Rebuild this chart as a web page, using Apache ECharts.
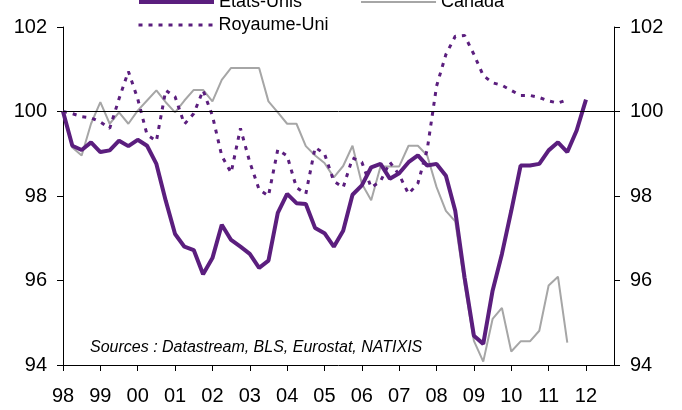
<!DOCTYPE html>
<html>
<head>
<meta charset="utf-8">
<script src="https://cdn.jsdelivr.net/npm/echarts@6/dist/echarts.min.js"></script>
<style>
  html, body { margin: 0; padding: 0; background: #fff; }
  #chart { width: 682px; height: 410px; }
</style>
</head>
<body>
<div id="chart"></div>
<script>
// années affichées sur l'axe, données trimestrielles (T1 1998 -> T4 2012)
const years = [1998, 1999, 2000, 2001, 2002, 2003, 2004, 2005, 2006, 2007, 2008, 2009, 2010, 2011, 2012]
const quarters = []
years.forEach(y => { for (let q = 1; q <= 4; q++) quarters.push(y + 'T' + q) })

// base 100 au T1 1998
const etatsUnis = [
  100, 99.19, 99.09, 99.27,
  99.04, 99.08, 99.31, 99.18,
  99.33, 99.19, 98.76, 97.89,
  97.10, 96.80, 96.72, 96.15,
  96.53, 97.32, 96.96, 96.80,
  96.63, 96.30, 96.47, 97.60,
  98.05, 97.83, 97.81, 97.24,
  97.12, 96.80, 97.18, 98.03,
  98.25, 98.68, 98.76, 98.41,
  98.54, 98.80, 98.96, 98.72,
  98.76, 98.48, 97.65, 96.07,
  94.69, 94.50, 95.76, 96.63,
  97.65, 98.72, 98.72, 98.76,
  99.08, 99.27, 99.04, 99.55,
  100.28
]
const canada = [
  100, 99.15, 98.96, 99.71,
  100.22, 99.71, 99.98, 99.71,
  100.02, 100.26, 100.50, 100.22,
  99.98, 100.26, 100.51, 100.51,
  100.24, 100.75, 101.03, 101.03,
  101.03, 101.03, 100.24, 99.98,
  99.71, 99.71, 99.18, 98.96,
  98.78, 98.44, 98.71, 99.19,
  98.29, 97.90, 98.70, 98.70,
  98.70, 99.19, 99.19, 98.96,
  98.21, 97.65, 97.40, 95.90,
  94.57, 94.08, 95.09, 95.35,
  94.32, 94.56, 94.56, 94.81,
  95.88, 96.09, 94.53
]
const royaumeUni = [
  100, 99.95, 99.88, 99.85,
  99.75, 99.60, 100.30, 100.95,
  100.30, 99.45, 99.30, 100.50,
  100.35, 99.70, 99.95, 100.50,
  99.90, 98.95, 98.55, 99.60,
  98.80, 98.15, 98.00, 99.10,
  98.95, 98.20, 98.05, 99.15,
  99.00, 98.35, 98.20, 98.90,
  98.80, 98.20, 98.35, 98.80,
  98.50, 98.05, 98.30, 99.10,
  100.60, 101.35, 101.78, 101.80,
  101.35, 100.85, 100.68, 100.62,
  100.50, 100.38, 100.38, 100.33,
  100.25, 100.20, 100.28
]

const font = "'Liberation Sans', Arial, sans-serif"
const violet = '#5b1e7e'
const gris = '#a6a6a6'
const isQ1 = (i) => i % 4 === 0

const chart = echarts.init(document.getElementById('chart'))

const yAxisBase = {
  type: 'value',
  min: 94,
  max: 102,
  interval: 2,
  splitLine: { show: false },
  axisLine: { show: true, lineStyle: { color: '#000', width: 1 } },
  axisTick: { show: true, length: 6, lineStyle: { color: '#000' } },
  axisLabel: { color: '#000', fontSize: 20, fontFamily: font, margin: 16 }
}

const legendText = { fontSize: 18, color: '#000', fontFamily: font }

chart.setOption({
  animation: false,
  textStyle: { fontFamily: font },
  grid: { left: 63, right: 68, top: 27, bottom: 45 },
  legend: [
    {
      data: [
        { name: 'Etats-Unis', lineStyle: { width: 4 } },
        { name: 'Canada', lineStyle: { width: 2 } }
      ],
      left: 132, top: -12,
      itemWidth: 75, itemHeight: 20, itemGap: 58,
      itemStyle: { opacity: 0 },
      textStyle: legendText
    },
    {
      data: [{ name: 'Royaume-Uni', lineStyle: { width: 3 } }],
      left: 132, top: 11,
      itemWidth: 75, itemHeight: 20,
      itemStyle: { opacity: 0 },
      textStyle: legendText
    }
  ],
  xAxis: {
    type: 'category',
    data: quarters,
    boundaryGap: false,
    axisLine: { lineStyle: { color: '#000', width: 1 } },
    axisTick: { interval: isQ1, length: 6, lineStyle: { color: '#000' } },
    axisLabel: {
      interval: isQ1,
      formatter: (v) => v.slice(2, 4),
      color: '#000', fontSize: 20, fontFamily: font, margin: 21
    },
    splitLine: { show: false }
  },
  yAxis: [
    Object.assign({}, yAxisBase, { position: 'left' }),
    Object.assign({}, yAxisBase, { position: 'right' })
  ],
  series: [
    {
      name: 'Etats-Unis', type: 'line', data: etatsUnis,
      symbol: 'none', z: 4,
      lineStyle: { color: violet, width: 4 },
      itemStyle: { color: violet },
      markLine: {
        silent: true, symbol: 'none', label: { show: false },
        lineStyle: { color: '#000', width: 1, type: 'solid' },
        data: [{ yAxis: 100 }]
      }
    },
    {
      name: 'Canada', type: 'line', data: canada,
      symbol: 'none', z: 2,
      lineStyle: { color: gris, width: 2 },
      itemStyle: { color: gris }
    },
    {
      name: 'Royaume-Uni', type: 'line', data: royaumeUni,
      symbol: 'none', z: 3,
      lineStyle: { color: violet, width: 3, type: [4, 6] },
      itemStyle: { color: violet }
    }
  ],
  graphic: [
    {
      type: 'text', left: 90, top: 340,
      style: {
        text: 'Sources : Datastream, BLS, Eurostat, NATIXIS',
        font: 'italic 16px ' + font, fill: '#000'
      }
    }
  ]
})
</script>
</body>
</html>
